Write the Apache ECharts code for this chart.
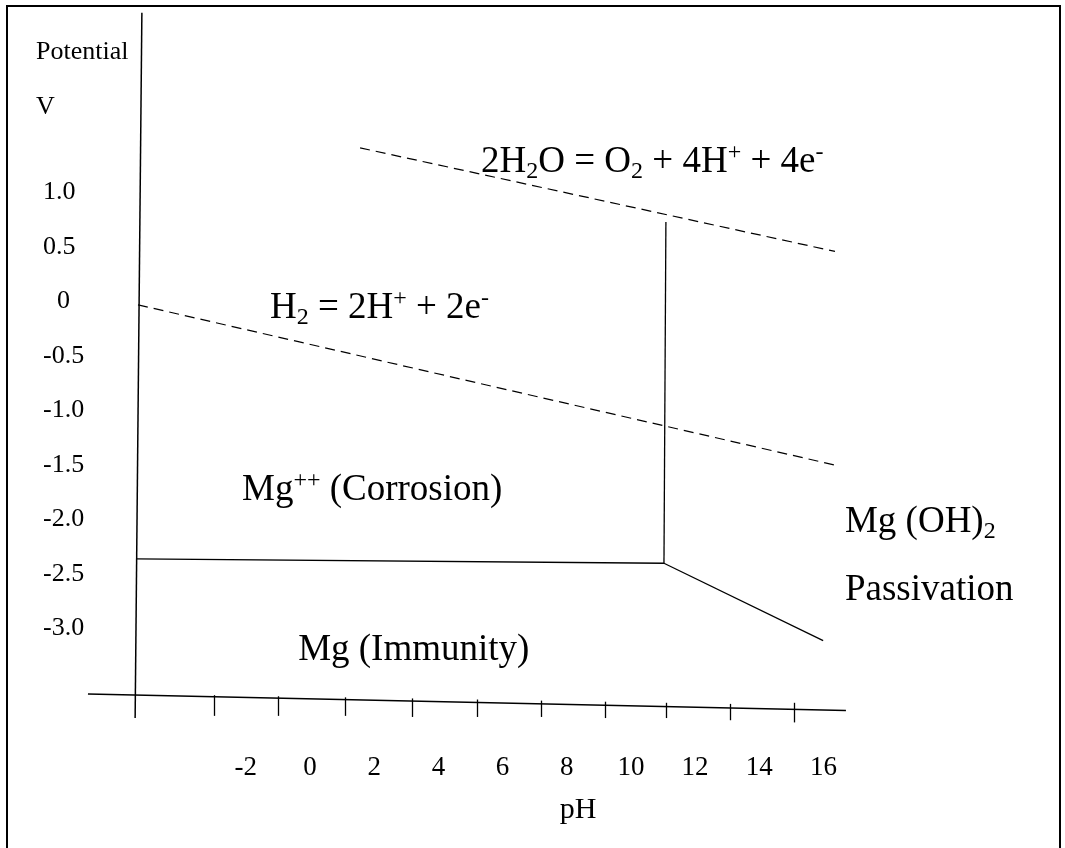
<!DOCTYPE html>
<html>
<head>
<meta charset="utf-8">
<title>Mg Pourbaix diagram</title>
<script src="https://cdn.jsdelivr.net/npm/echarts@6/dist/echarts.min.js"></script>
<style>
  html, body { margin: 0; padding: 0; background: #fff; }
  #chart { width: 1065px; height: 848px; }
</style>
</head>
<body>
<div id="chart"></div>
<script>
// Potential–pH (Pourbaix) diagram of magnesium in water

// tick labels
const phTickLabels = [-2, 0, 2, 4, 6, 8, 10, 12, 14, 16];
const potentialTickLabels = [1.0, 0.5, 0, -0.5, -1.0, -1.5, -2.0, -2.5, -3.0];

// water stability limits, [pH, V]
const oxygenLine = [[1.56, 1.41], [16.36, 0.46]];
const hydrogenLine = [[-5.36, -0.03], [16.36, -1.50]];

// phase boundaries, [pH, V]
const passivationBoundary = [[11.09, 0.73], [11.03, -2.40]];
const immunityBoundary = [[-5.42, -2.36], [11.03, -2.40]];
const hydroxideBoundary = [[11.03, -2.40], [15.99, -3.11]];

// ruled axes, [pH, V]
const potentialAxisLine = [[-5.24, 2.65], [-5.45, -3.82]];
const phAxisLine = [[-6.92, -3.60], [16.70, -3.75]];
// tick marks along the pH axis: [pH, top V, bottom V]
const phAxisTicks = [
  [-3.0, -3.61, -3.80], [-1.0, -3.62, -3.80], [1.1, -3.63, -3.80],
  [3.2, -3.64, -3.81], [5.2, -3.65, -3.81], [7.2, -3.66, -3.81],
  [9.2, -3.67, -3.82], [11.1, -3.68, -3.82], [13.1, -3.69, -3.84],
  [15.1, -3.68, -3.86]
];

// reactions and regions: [pH, V, text]
const regionLabels = [
  [5.33, 1.28, '2H{sub|2}O = O{sub|2} + 4H{sup|+} + 4e{neg|-}'],
  [-1.25, -0.06, 'H{sub|2} = 2H{sup|+} + 2e{neg|-}'],
  [-2.12, -1.73, 'Mg{sup|++} (Corrosion)'],
  [-0.37, -3.20, 'Mg (Immunity)'],
  [16.67, -2.02, 'Mg (OH){sub|2}'],
  [16.67, -2.65, 'Passivation']
];

const SERIF = '"Liberation Serif", "Times New Roman", serif';
const INK = '#000';

function segment(points) {
  return [{ coords: points }];
}

const chart = echarts.init(document.getElementById('chart'), null, { renderer: 'canvas' });

const solid = { color: INK, width: 1.3, type: 'solid', opacity: 1 };
const dashed = { color: INK, width: 1.2, type: [10, 6], opacity: 1 };

function linesSeries(data, lineStyle) {
  return {
    type: 'lines',
    coordinateSystem: 'cartesian2d',
    polyline: false,
    clip: false,
    silent: true,
    symbol: 'none',
    lineStyle: lineStyle,
    data: data
  };
}

chart.setOption({
  animation: false,
  backgroundColor: '#fff',
  grid: { left: 85.4, top: 7.2, width: 930.6, height: 739.2, containLabel: false },
  xAxis: {
    type: 'value',
    min: -7,
    max: 22,
    axisLine: { show: false },
    axisTick: { show: false },
    splitLine: { show: false },
    axisLabel: {
      customValues: phTickLabels,
      margin: 8,
      fontFamily: SERIF,
      fontSize: 27,
      color: INK
    }
  },
  yAxis: {
    type: 'value',
    min: -4.08,
    max: 2.7,
    axisLine: { show: false },
    axisTick: { show: false },
    splitLine: { show: false },
    axisLabel: {
      customValues: potentialTickLabels,
      margin: 42.4,
      align: 'left',
      fontFamily: SERIF,
      fontSize: 26,
      color: INK,
      formatter: function (v) {
        return v === 0 ? '{z|0}' : v.toFixed(1);
      },
      rich: {
        z: { fontFamily: SERIF, fontSize: 26, color: INK, padding: [0, 0, 0, 14] }
      }
    }
  },
  graphic: [
    {
      type: 'rect',
      shape: { x: 7, y: 6, width: 1053, height: 870 },
      style: { fill: 'none', stroke: '#000', lineWidth: 2 },
      silent: true
    },
    {
      type: 'text',
      x: 36,
      y: 24.5,
      style: {
        text: 'Potential\nV',
        font: '26px ' + SERIF,
        lineHeight: 55,
        fill: INK,
        textAlign: 'left',
        textVerticalAlign: 'top'
      },
      silent: true
    },
    {
      type: 'text',
      x: 578,
      y: 810,
      style: {
        text: 'pH',
        font: '30px ' + SERIF,
        fill: INK,
        textAlign: 'center',
        textVerticalAlign: 'middle'
      },
      silent: true
    }
  ],
  series: [
    linesSeries(segment(potentialAxisLine), { color: INK, width: 1.5, type: 'solid', opacity: 1 }),
    linesSeries(segment(phAxisLine), { color: INK, width: 1.5, type: 'solid', opacity: 1 }),
    linesSeries(phAxisTicks.map(function (t) {
      return { coords: [[t[0], t[1]], [t[0], t[2]]] };
    }), solid),
    linesSeries(segment(oxygenLine), dashed),
    linesSeries(segment(hydrogenLine), dashed),
    linesSeries(segment(passivationBoundary), solid),
    linesSeries(segment(immunityBoundary), solid),
    linesSeries(segment(hydroxideBoundary), solid),
    {
      type: 'scatter',
      symbolSize: 0,
      silent: true,
      clip: false,
      itemStyle: { opacity: 1 },
      data: regionLabels.map(function (r) {
        return { value: [r[0], r[1]], name: r[2] };
      }),
      label: {
        show: true,
        position: [0, 0],
        align: 'left',
        verticalAlign: 'middle',
        fontFamily: SERIF,
        fontSize: 37,
        lineHeight: 43,
        color: INK,
        opacity: 1,
        formatter: function (p) { return p.name; },
        rich: {
          sub: { fontFamily: SERIF, fontSize: 24, lineHeight: 24, verticalAlign: 'bottom', color: INK },
          sup: { fontFamily: SERIF, fontSize: 24, lineHeight: 26, verticalAlign: 'top', color: INK },
          neg: { fontFamily: SERIF, fontSize: 24, lineHeight: 38, verticalAlign: 'top', color: INK }
        }
      }
    }
  ]
});
</script>
</body>
</html>
